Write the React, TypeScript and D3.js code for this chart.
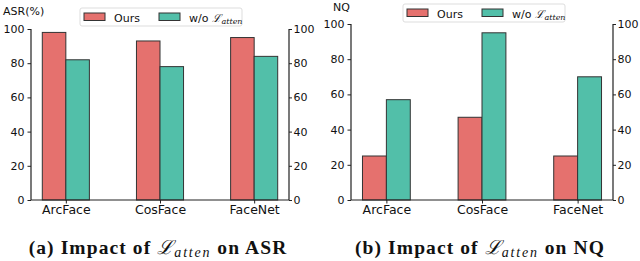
import * as d3 from "d3"
import React, { useEffect, useRef } from "react"

const categories = ["ArcFace", "CosFace", "FaceNet"]
const seriesNames = ["Ours", "w/o"]
const asrOurs = [98, 93, 95]
const asrWithout = [82, 78, 84]
const nqOurs = [25, 47, 25]
const nqWithout = [57, 95, 70]
const yTicks = [0, 20, 40, 60, 80, 100]

const RED = "#e5716e"
const TEAL = "#52bfa9"
const FONT = "'DejaVu Sans', sans-serif"

type Panel = {
  left: number
  right: number
  top: number
  bottom: number
  pad: number
  ours: number[]
  without: number[]
  yLabel: string
  yLabelPos: [number, number]
  legend: [number, number]
  caption: string
  metric: string
}

function drawPanel(svg: d3.Selection<SVGSVGElement, unknown, null, undefined>, p: Panel) {
  const x = d3.scaleLinear().domain([-p.pad, categories.length - 1 + p.pad]).range([p.left, p.right])
  const y = d3.scaleLinear().domain([0, 100]).range([p.bottom, p.top])
  const w = 0.25

  const g = svg.append("g")

  // bars
  const series = [p.ours, p.without]
  const colors = [RED, TEAL]
  series.forEach((vals, s) => {
    g.selectAll(null)
      .data(vals)
      .enter()
      .append("rect")
      .attr("x", (d, i) => x(i - w + s * w))
      .attr("width", x(w) - x(0))
      .attr("y", d => y(d))
      .attr("height", d => y(0) - y(d))
      .attr("fill", colors[s])
      .attr("stroke", "#333")
      .attr("stroke-width", 1)
  })

  // axes
  const yl = g.append("g")
    .attr("transform", `translate(${p.left},0)`)
    .call(d3.axisLeft(y).tickValues(yTicks).tickSize(3.5).tickPadding(3))
  const yr = g.append("g")
    .attr("transform", `translate(${p.right},0)`)
    .call(d3.axisRight(y).tickValues(yTicks).tickSize(3).tickPadding(1.5))
  const xb = g.append("g")
    .attr("transform", `translate(0,${p.bottom})`)
    .call(d3.axisBottom(x).tickValues(categories.map((c, i) => i)).tickSize(3.5).tickPadding(2)
      .tickFormat((d, i) => categories[i]))
  g.selectAll(".domain").remove()
  g.selectAll(".tick line").attr("stroke", "#222").attr("stroke-width", 1)
  g.selectAll(".tick text").attr("font-family", FONT).attr("fill", "#111")
  yl.selectAll("text").attr("font-size", 11)
  yr.selectAll("text").attr("font-size", 11)
  xb.selectAll("text").attr("font-size", 12.5)

  // spines
  const spine = d3.line()
  g.append("path")
    .attr("d", spine([[p.left, p.top], [p.left, p.bottom], [p.right, p.bottom], [p.right, p.top]]))
    .attr("fill", "none")
    .attr("stroke", "#222")
    .attr("stroke-width", 1.2)

  // y label
  g.append("text")
    .attr("x", p.yLabelPos[0])
    .attr("y", p.yLabelPos[1])
    .attr("font-family", FONT)
    .attr("font-size", 11)
    .attr("fill", "#111")
    .text(p.yLabel)

  // legend
  const [lx, ly] = p.legend
  const lg = g.append("g").attr("transform", `translate(${lx},${ly})`)
  lg.append("rect")
    .attr("width", 162).attr("height", 18).attr("rx", 2)
    .attr("fill", "white").attr("stroke", "#ddd")
  const offsets = [4, 79]
  seriesNames.forEach((name, s) => {
    lg.append("rect")
      .attr("x", offsets[s]).attr("y", 5).attr("width", 21).attr("height", 7.5)
      .attr("fill", colors[s]).attr("stroke", "#333").attr("stroke-width", 1)
    const t = lg.append("text")
      .attr("x", offsets[s] + 30).attr("y", 13.5)
      .attr("font-family", FONT).attr("font-size", 11).attr("fill", "#111")
      .text(name)
    if (s === 1) {
      t.append("tspan").attr("dx", 4).attr("font-family", "'DejaVu Serif', serif")
        .attr("font-style", "italic").text("\u2112")
      t.append("tspan").attr("dy", 2).attr("font-size", 8).attr("font-style", "italic")
        .attr("font-family", "'DejaVu Serif', serif").text("atten")
    }
  })

  // caption
  const cap = g.append("text")
    .attr("x", (p.left + p.right) / 2 - 2)
    .attr("y", 254)
    .attr("text-anchor", "middle")
    .attr("font-family", "'Liberation Serif', serif")
    .attr("font-weight", "bold")
    .attr("font-size", 19.5)
    .attr("letter-spacing", 1.1)
    .attr("fill", "#111")
  cap.append("tspan").text(p.caption + " ")
  cap.append("tspan").attr("font-weight", "normal").attr("font-style", "italic").text("\u2112")
  cap.append("tspan").attr("font-weight", "normal").attr("font-style", "italic")
    .attr("font-size", 14).attr("dy", 3).attr("letter-spacing", 1.8).text("atten")
  cap.append("tspan").attr("dy", -3).text(" on " + p.metric)
}

export default function App() {
  const ref = useRef<SVGSVGElement>(null)

  useEffect(() => {
    const svg = d3.select(ref.current!)
    svg.selectAll("*").remove()
    drawPanel(svg, {
      left: 31, right: 289, top: 29, bottom: 200, pad: 0.37,
      ours: asrOurs, without: asrWithout,
      yLabel: "ASR(%)", yLabelPos: [3, 15], legend: [80, 8],
      caption: "(a) Impact of", metric: "ASR",
    })
    drawPanel(svg, {
      left: 351, right: 613, top: 24, bottom: 200, pad: 0.37,
      ours: nqOurs, without: nqWithout,
      yLabel: "NQ", yLabelPos: [333, 11], legend: [403, 4],
      caption: "(b) Impact of", metric: "NQ",
    })
  }, [])

  return (
    <svg ref={ref} width={640} height={261}
      style={{ position: "absolute", left: 0, top: 0, background: "white" }} />
  )
}
